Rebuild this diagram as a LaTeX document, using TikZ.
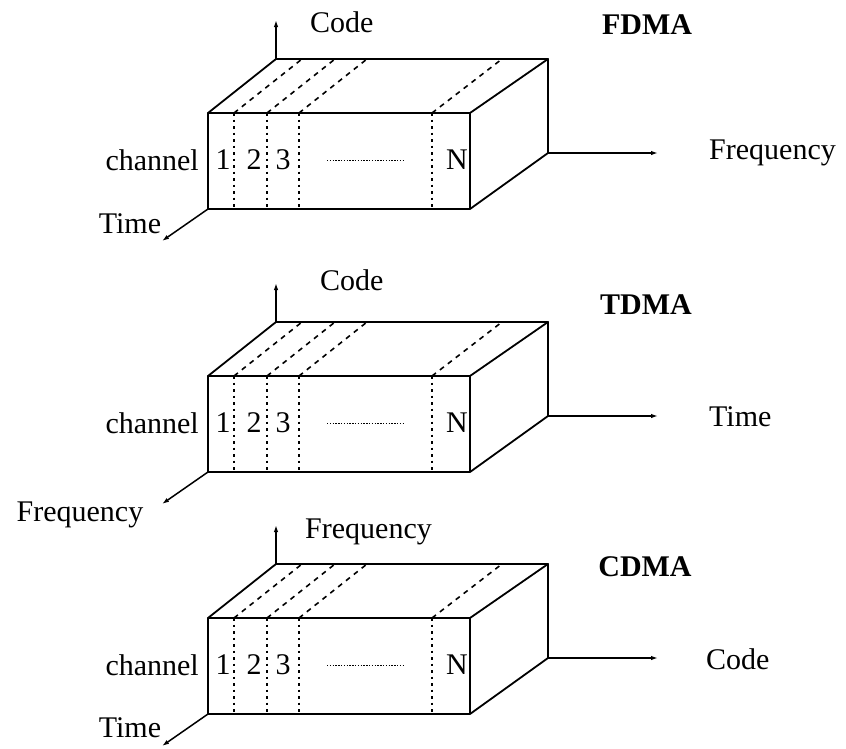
\documentclass[tikz,border=0pt]{standalone}
\usepackage{fontspec}
\setmainfont{Liberation Serif}
\usetikzlibrary{arrows.meta}
\begin{document}
\begin{tikzpicture}[x=1pt,y=-1pt,
  edge/.style={line width=1.8pt,line cap=round,line join=round},
  vdiv/.style={line width=1.6pt,dash pattern=on 2.5pt off 4pt},
  sdiv/.style={line width=1.6pt,dash pattern=on 5pt off 5pt},
  midline/.style={line width=0.9pt,dash pattern=on 1.4pt off 1.4pt},
  axis/.style={line width=1.5pt,-{Latex[length=7pt,width=4.5pt]}},
  lbl/.style={font=\fontsize{30}{32}\selectfont,inner sep=0pt},
  ttl/.style={font=\fontsize{30}{32}\selectfont\bfseries,inner sep=0pt}]
\useasboundingbox (0,0) rectangle (846,748);
\foreach \b/\s in {a/0,b/263,c/505}{
  \begin{scope}[yshift=-\s pt]
    \coordinate (\b FLT) at (208,113);
    \coordinate (\b FRT) at (470,113);
    \coordinate (\b FLB) at (208,209);
    \coordinate (\b FRB) at (470,209);
    \coordinate (\b BLT) at (276,59);
    \coordinate (\b BRT) at (548,59);
    \coordinate (\b BRB) at (548,153);
    \coordinate (\b up) at (276,20);
    \coordinate (\b right) at (658,153);
    \coordinate (\b left) at (162,241);
    \foreach \i/\xf/\xb in {1/234/302,2/267/335,3/299/367,4/432/502}{
      \coordinate (\b D\i T) at (\xf,113);
      \coordinate (\b D\i B) at (\xf,209);
      \coordinate (\b D\i K) at (\xb,59);
    }
    \coordinate (\b M1) at (327,160);
    \coordinate (\b M2) at (403,160);
    \node[lbl] (\b n1) at (223,160) {1};
    \node[lbl] (\b n2) at (254,160) {2};
    \node[lbl] (\b n3) at (283,160) {3};
    \node[lbl] (\b nN) at (457,160) {N};
  \end{scope}
  \draw[edge] (\b FLT) -- (\b FRT) -- (\b FRB) -- (\b FLB) -- cycle;
  \draw[edge] (\b FLT) -- (\b BLT) -- (\b BRT) -- (\b FRT);
  \draw[edge] (\b BRT) -- (\b BRB) -- (\b FRB);
  \foreach \i in {1,2,3,4}{
    \draw[vdiv] (\b D\i T) -- (\b D\i B);
    \draw[sdiv] (\b D\i T) -- (\b D\i K);
  }
  \draw[midline] (\b M1) -- (\b M2);
  \draw[axis] (\b BLT) -- (\b up);
  \draw[axis] (\b BRB) -- (\b right);
  \draw[axis] (\b FLB) -- (\b left);
}
% box 1 labels
\node[lbl,anchor=west] (codeA) at (310,22) {Code};
\node[lbl,anchor=east] (chA) at (199,160) {channel};
\node[lbl] (timeA) at (130,224) {Time};
\node[lbl,anchor=west] (freqA) at (709,153) {Frequency};
\node[ttl] (fdma) at (647,25) {FDMA};
% box 2 labels
\node[lbl,anchor=west] (codeB) at (320,280) {Code};
\node[lbl,anchor=east] (chB) at (199,423) {channel};
\node[lbl] (freqB) at (80,515) {Frequency};
\node[lbl,anchor=west] (timeB) at (709,417) {Time};
\node[ttl] (tdma) at (646,305) {TDMA};
% box 3 labels
\node[lbl,anchor=west] (freqC) at (305,532) {Frequency};
\node[lbl,anchor=east] (chC) at (199,665) {channel};
\node[lbl] (timeC) at (130,728) {Time};
\node[lbl,anchor=west] (codeC) at (706,659) {Code};
\node[ttl] (cdma) at (645,567) {CDMA};
\end{tikzpicture}
\end{document}
